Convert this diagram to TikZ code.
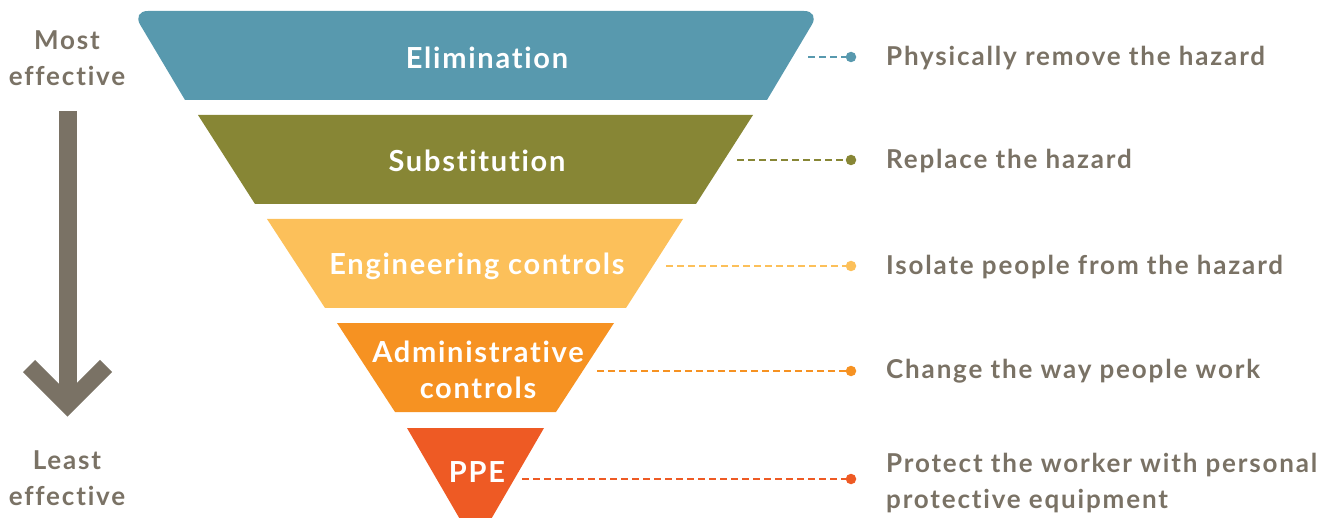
\documentclass[tikz,border=0pt]{standalone}
\usepackage{fontspec}
\setmainfont{Lato}
\newfontfamily\grayfont{Lato}[LetterSpace=7,Ligatures={NoCommon,NoRare},RawFeature={-liga;-dlig}]
\newfontfamily\whitefont{Lato}[LetterSpace=6,Ligatures={NoCommon,NoRare},RawFeature={-liga;-dlig}]
\definecolor{elimc}{RGB}{88,153,174}
\definecolor{subc}{RGB}{135,134,53}
\definecolor{engc}{RGB}{252,192,90}
\definecolor{admc}{RGB}{246,146,34}
\definecolor{ppec}{RGB}{238,90,36}
\definecolor{txtc}{RGB}{122,114,101}
\begin{document}
\begin{tikzpicture}[x=1pt,y=-1pt,
  gray label/.style={text=txtc,font=\grayfont\bfseries\fontsize{26}{36}\selectfont,inner sep=0pt},
  band label/.style={text=white,font=\whitefont\bfseries\fontsize{29}{36}\selectfont,inner sep=0pt,align=center},
  desc/.style={gray label,anchor=west,align=left},
  dot/.style={circle,inner sep=0pt,minimum size=10.5pt},
  conn/.style={line width=2.2pt,dash pattern=on 6.5pt off 4.5pt}]
\useasboundingbox (0,0) rectangle (1340,518);
\clip (0,0) rectangle (1340,518);
% bands
\fill[elimc] (185,100) [rounded corners=16pt] -- (132,11) -- (820,11) [sharp corners] -- (767,100) -- cycle;
\fill[subc] (198,115) -- (753,115) -- (696,204) -- (255,204) -- cycle;
\fill[engc] (267,219) -- (683,219) -- (626,308) -- (325,308) -- cycle;
\fill[admc] (337,323) -- (614,323) -- (556,412) -- (395,412) -- cycle;
\fill[ppec] (407,428) -- (544,428) -- (475.5,546) -- cycle;
% band labels
\node[band label] (elim) at (487,58) {Elimination};
\node[band label] (sub) at (477,161) {Substitution};
\node[band label] (eng) at (477,266) {Engineering controls};
\node[band label] (adm) at (478,370) {Administrative\\controls};
\node[band label] (ppe) at (477,472) {PPE};
% connector starts
\coordinate (s1) at (808,57);
\coordinate (s2) at (737,160);
\coordinate (s3) at (666,266);
\coordinate (s4) at (597,371);
\coordinate (s5) at (522,479);
% dots
\node[dot,fill=elimc] (d1) at (851,57) {};
\node[dot,fill=subc] (d2) at (851,160) {};
\node[dot,fill=engc] (d3) at (851,266) {};
\node[dot,fill=admc] (d4) at (851,371) {};
\node[dot,fill=ppec] (d5) at (851,479) {};
\draw[conn,elimc] (s1) -- (d1);
\draw[conn,subc] (s2) -- (d2);
\draw[conn,engc] (s3) -- (d3);
\draw[conn,admc] (s4) -- (d4);
\draw[conn,ppec] (s5) -- (d5);
% descriptions
\node[desc] (t1) at (886,58) {Physically remove the hazard};
\node[desc] (t2) at (886,161) {Replace the hazard};
\node[desc] (t3) at (886,267) {Isolate people from the hazard};
\node[desc] (t4) at (886,371) {Change the way people work};
\node[desc] (t5) at (886,483) {Protect the worker with personal\\protective equipment};
% left scale
\node[gray label,align=center] (most) at (67,58) {Most\\effective};
\node[gray label,align=center] (least) at (67,478) {Least\\effective};
\coordinate (a1) at (67.5,111);
\coordinate (a2) at (67.5,402);
\coordinate (al) at (29,366);
\coordinate (ar) at (106,366);
\coordinate (at) at (67.5,404.5);
\draw[txtc,line width=18pt] (a1) -- (a2);
\draw[txtc,line width=17pt,miter limit=10] (al) -- (at) -- (ar);
\end{tikzpicture}
\end{document}
